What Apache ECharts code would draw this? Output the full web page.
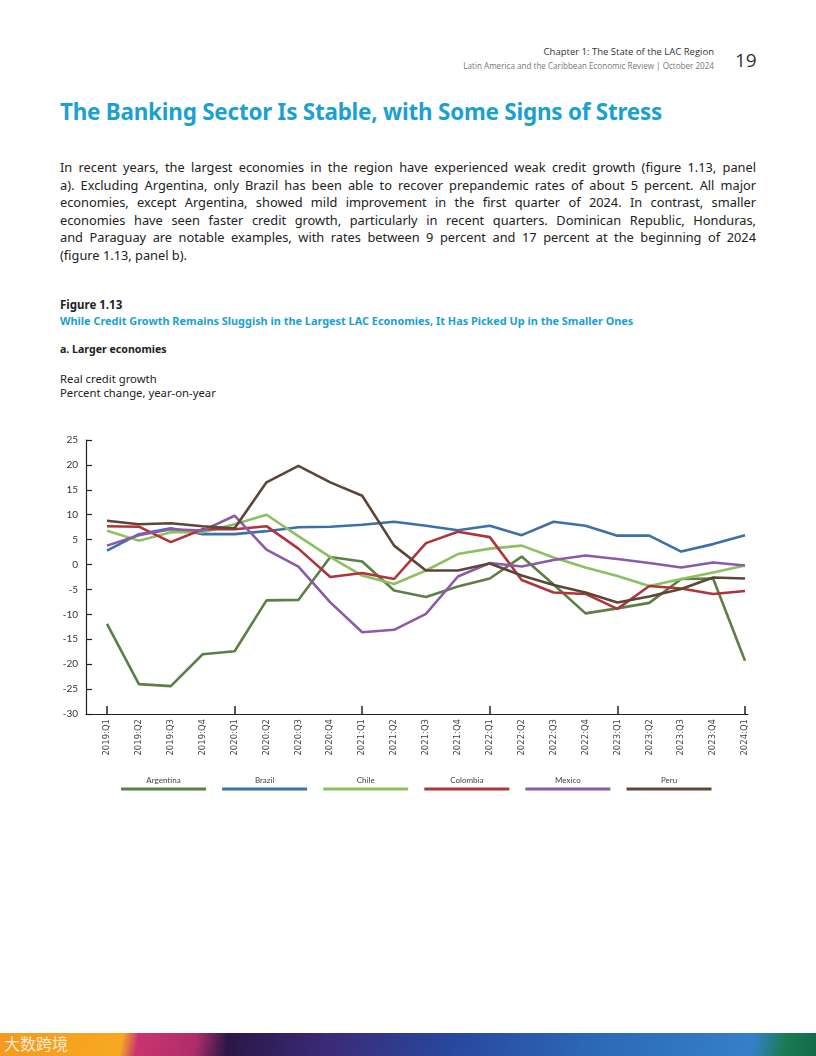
<!DOCTYPE html>
<html>
<head>
<meta charset="utf-8">
<script src="https://cdn.jsdelivr.net/npm/echarts@6/dist/echarts.min.js"></script>
<style>
  html, body { margin: 0; padding: 0; background: #fff; }
  body { width: 816px; height: 1056px; position: relative; overflow: hidden; font-family: "Noto Sans", "Open Sans", sans-serif; color: #222; }
  .abs { position: absolute; white-space: nowrap; }
  #hdr1 { right: 102px; top: 45px; font-family: "Open Sans", sans-serif; font-size: 9.5px; color: #333; }
  #hdr2 { right: 102px; top: 60px; font-family: "Open Sans", sans-serif; font-size: 8.1px; color: #777; }
  #pnum { left: 735px; top: 47px; font-family: "Open Sans", sans-serif; font-size: 19px; color: #333; }
  #title { left: 60px; top: 96px; font-size: 22.4px; font-weight: bold; color: #1aa0d2; letter-spacing: -0.2px; }
  #para { position: absolute; left: 60px; top: 159px; width: 696px; font-size: 12.8px; line-height: 17.6px; color: #222; }
  #para div { text-align: justify; text-align-last: justify; white-space: nowrap; }
  #para div.last { text-align-last: left; }
  #fig { left: 60px; top: 297px; font-size: 11.5px; font-weight: bold; color: #222; }
  #figsub { left: 60px; top: 313px; font-size: 10.9px; font-weight: bold; color: #1aa0d2; }
  #panel { left: 60px; top: 342px; font-size: 10.6px; font-weight: bold; color: #222; }
  #unit1 { left: 60px; top: 371px; font-size: 11.3px; color: #222; }
  #unit2 { left: 60px; top: 385px; font-size: 11.3px; color: #222; }
  #chart { position: absolute; left: 0; top: 420px; width: 816px; height: 400px; }
  #footer { position: absolute; left: 0; top: 1033px; width: 816px; height: 23px;
    background: linear-gradient(100deg, #f39a1e 0%, #f7a823 15%, #c9336f 17%, #b02d6a 24%, #2a1747 28%, #3a2a78 40%, #28479c 55%, #2b68b4 72%, #3580c8 92%, #1c7a54 96%, #106a4a 100%); }
  #wm { left: 4px; top: 1031px; font-family: "Noto Sans CJK SC", sans-serif; font-size: 16px; color: rgba(255,255,255,0.8); }
</style>
</head>
<body>
<div class="abs" id="hdr1">Chapter 1: The State of the LAC Region</div>
<div class="abs" id="hdr2">Latin America and the Caribbean Economic Review | October 2024</div>
<div class="abs" id="pnum">19</div>
<div class="abs" id="title">The Banking Sector Is Stable, with Some Signs of Stress</div>
<div id="para">
  <div>In recent years, the largest economies in the region have experienced weak credit growth (figure 1.13, panel</div>
  <div>a). Excluding Argentina, only Brazil has been able to recover prepandemic rates of about 5 percent. All major</div>
  <div>economies, except Argentina, showed mild improvement in the first quarter of 2024. In contrast, smaller</div>
  <div>economies have seen faster credit growth, particularly in recent quarters. Dominican Republic, Honduras,</div>
  <div>and Paraguay are notable examples, with rates between 9 percent and 17 percent at the beginning of 2024</div>
  <div class="last">(figure 1.13, panel b).</div>
</div>
<div class="abs" id="fig">Figure 1.13</div>
<div class="abs" id="figsub">While Credit Growth Remains Sluggish in the Largest LAC Economies, It Has Picked Up in the Smaller Ones</div>
<div class="abs" id="panel">a. Larger economies</div>
<div class="abs" id="unit1">Real credit growth</div>
<div class="abs" id="unit2">Percent change, year-on-year</div>
<div id="chart"></div>
<div id="footer"></div>
<div class="abs" id="wm">大数跨境</div>
<script>
// ---- data ----
const categories = ["2019:Q1","2019:Q2","2019:Q3","2019:Q4","2020:Q1","2020:Q2","2020:Q3","2020:Q4",
  "2021:Q1","2021:Q2","2021:Q3","2021:Q4","2022:Q1","2022:Q2","2022:Q3","2022:Q4",
  "2023:Q1","2023:Q2","2023:Q3","2023:Q4","2024:Q1"];
const argentina = [-11.9,-24.0,-24.4,-18.0,-17.4,-7.2,-7.1,1.5,0.6,-5.2,-6.5,-4.4,-2.8,1.6,-4.0,-9.8,-8.8,-7.7,-2.9,-2.8,-19.3];
const brazil    = [2.8,6.1,7.3,6.1,6.1,6.7,7.5,7.6,8.0,8.6,7.8,6.9,7.8,5.9,8.6,7.8,5.8,5.8,2.6,4.1,5.9];
const chile     = [6.8,4.8,6.5,6.5,8.1,10.0,5.7,1.5,-2.2,-3.9,-1.2,2.1,3.2,3.8,1.4,-0.6,-2.3,-4.3,-2.9,-1.6,-0.2];
const colombia  = [7.7,7.6,4.5,7.1,7.1,7.7,3.2,-2.5,-1.7,-2.9,4.3,6.6,5.5,-3.1,-5.6,-5.9,-8.9,-4.3,-4.8,-5.9,-5.3];
const mexico    = [3.8,5.9,7.1,6.8,9.8,3.0,-0.4,-7.6,-13.6,-13.1,-9.9,-2.4,0.3,-0.4,0.9,1.8,1.1,0.3,-0.6,0.4,-0.2];
const peru      = [8.8,8.1,8.3,7.7,7.3,16.5,19.8,16.5,13.8,3.8,-1.2,-1.2,0.2,-2.2,-4.1,-5.6,-7.6,-6.4,-4.9,-2.6,-2.8];
const seriesNames = ["Argentina","Brazil","Chile","Colombia","Mexico","Peru"];
const seriesValues = [argentina, brazil, chile, colombia, mexico, peru];
const seriesColors = ["#5b7f45","#3b70a8","#8dc061","#b1333b","#8b5aa8","#5e4636"];
const yTicks = [25,20,15,10,5,0,-5,-10,-15,-20,-25,-30];

// ---- chart ----
const chart = echarts.init(document.getElementById('chart'), null, {renderer: 'canvas'});
const idx = categories.map((c, i) => i);
const series = seriesNames.map((name, s) => ({
  name: name,
  type: 'line',
  data: seriesValues[s].map((v, i) => [i, v]),
  showSymbol: false,
  symbol: 'none',
  lineStyle: { color: seriesColors[s], width: 2.6 },
  itemStyle: { color: seriesColors[s] },
  z: 2,
  animation: false
}));

const graphics = [];
seriesNames.forEach((name, s) => {
  const cx = 163.5 + s * 101.1;
  graphics.push({
    type: 'text', x: cx, y: 360,
    style: { text: name, textAlign: 'center', textVerticalAlign: 'middle',
      fill: '#444', font: '8px Lato, "Open Sans", sans-serif' }
  });
  graphics.push({
    type: 'line', shape: { x1: cx - 42.5, y1: 369, x2: cx + 42.5, y2: 369 },
    style: { stroke: seriesColors[s], lineWidth: 3 }
  });
});

chart.setOption({
  animation: false,
  grid: { left: 86, right: 68, top: 20, height: 274, containLabel: false },
  xAxis: {
    type: 'value', min: -0.658, max: 20.094,
    axisLine: { show: true, onZero: false, lineStyle: { color: '#222', width: 1.2 } },
    axisTick: { show: true, inside: true, length: 8, lineStyle: { color: '#222', width: 1.5 },
      customValues: [0, 4, 8, 12, 16, 20] },
    axisLabel: { show: true, rotate: 90, margin: 5, color: '#444', fontSize: 8.5,
      fontFamily: '"DejaVu Sans", sans-serif',
      customValues: idx, formatter: v => categories[Math.round(v)] },
    splitLine: { show: false }
  },
  yAxis: {
    type: 'value', min: -30, max: 25, interval: 5,
    axisLine: { show: true, onZero: false, lineStyle: { color: '#222', width: 1.2 } },
    axisTick: { show: true, inside: true, length: 6, lineStyle: { color: '#222', width: 1.2 } },
    axisLabel: { color: '#333', fontSize: 10, margin: 8, fontFamily: 'Lato, "Open Sans", sans-serif' },
    splitLine: { show: false }
  },
  series: series,
  graphic: graphics
});
</script>
</body>
</html>
